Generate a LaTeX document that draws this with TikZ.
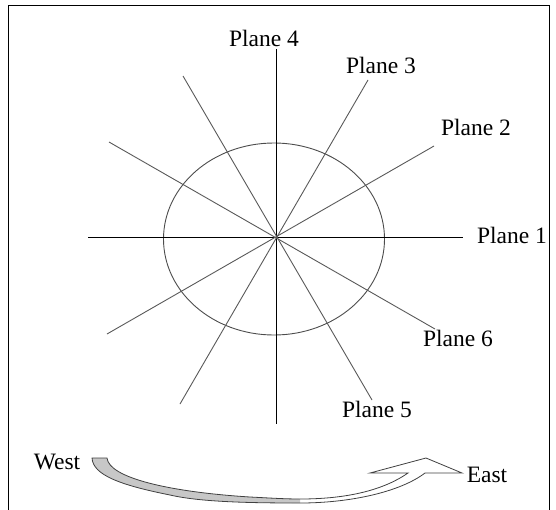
\documentclass[tikz,border=0pt]{standalone}
\usepackage{fontspec}
\setmainfont{Liberation Serif}
\tikzset{
  radial/.style={draw=black!65, line width=0.9pt},
  axis/.style={draw=black, line width=0.9pt},
  lbl/.style={anchor=base, inner sep=0pt, font=\fontsize{23.5}{26}\selectfont},
  ribbon/.style={draw=black!75, line width=0.8pt, line join=miter}
}
\begin{document}
\begin{tikzpicture}[x=1pt,y=-1pt]
\useasboundingbox (0,0) rectangle (556,509);
\clip (0,0) rectangle (556,509);
% frame
\draw[black, line width=1pt] (8,520) -- (8,5) -- (549,5) -- (549,520);
% centre and line ends
\coordinate (c) at (276,237);
\coordinate (h1) at (88,237);   \coordinate (h2) at (463,237);
\coordinate (v1) at (276,49);   \coordinate (v2) at (276,424);
\coordinate (a1) at (434,146);  \coordinate (a2) at (107,334);
\coordinate (b1) at (109,142);  \coordinate (b2) at (435,329);
\coordinate (d1) at (368,80);   \coordinate (d2) at (180,404);
\coordinate (e1) at (183,76);   \coordinate (e2) at (372,400);
% ellipse
\draw[draw=black!70, line width=0.9pt] (274,239) ellipse [x radius=110.5, y radius=96];
% lines
\draw[axis] (h1) -- (h2);
\draw[axis] (v1) -- (v2);
\draw[radial] (a1) -- (a2);
\draw[radial] (b1) -- (b2);
\draw[radial] (d1) -- (d2);
\draw[radial] (e1) -- (e2);
% labels
\node[lbl] (p4) at (264,46) {Plane 4};
\node[lbl] (p3) at (381,73) {Plane 3};
\node[lbl] (p2) at (476,135) {Plane 2};
\node[lbl] (p1) at (512,243) {Plane 1};
\node[lbl] (p6) at (458,346) {Plane 6};
\node[lbl] (p5) at (377,417) {Plane 5};
\node[lbl] (w) at (57,469) {West};
\node[lbl] (e) at (487,482) {East};
% curved arrow: gray underside part
\fill[black!22] (92,458) -- (107,458)
  .. controls (109,478) and (170,492) .. (250,497)
  .. controls (270,498) and (285,499) .. (300,499)
  -- (300,503)
  .. controls (250,503) and (200,502) .. (170,495)
  .. controls (120,485) and (93,475) .. (92,458) -- cycle;
\draw[ribbon] (92,458) -- (107,458)
  .. controls (109,478) and (170,492) .. (250,497)
  .. controls (270,498) and (285,499) .. (300,499)
  .. controls (350,499) and (385,489) .. (408,473)
  -- (370,473) -- (426,458) -- (462,473) -- (425,473)
  .. controls (400,492) and (350,503) .. (300,503)
  .. controls (250,503) and (200,502) .. (170,495)
  .. controls (120,485) and (93,475) .. (92,458) -- cycle;
\end{tikzpicture}
\end{document}
